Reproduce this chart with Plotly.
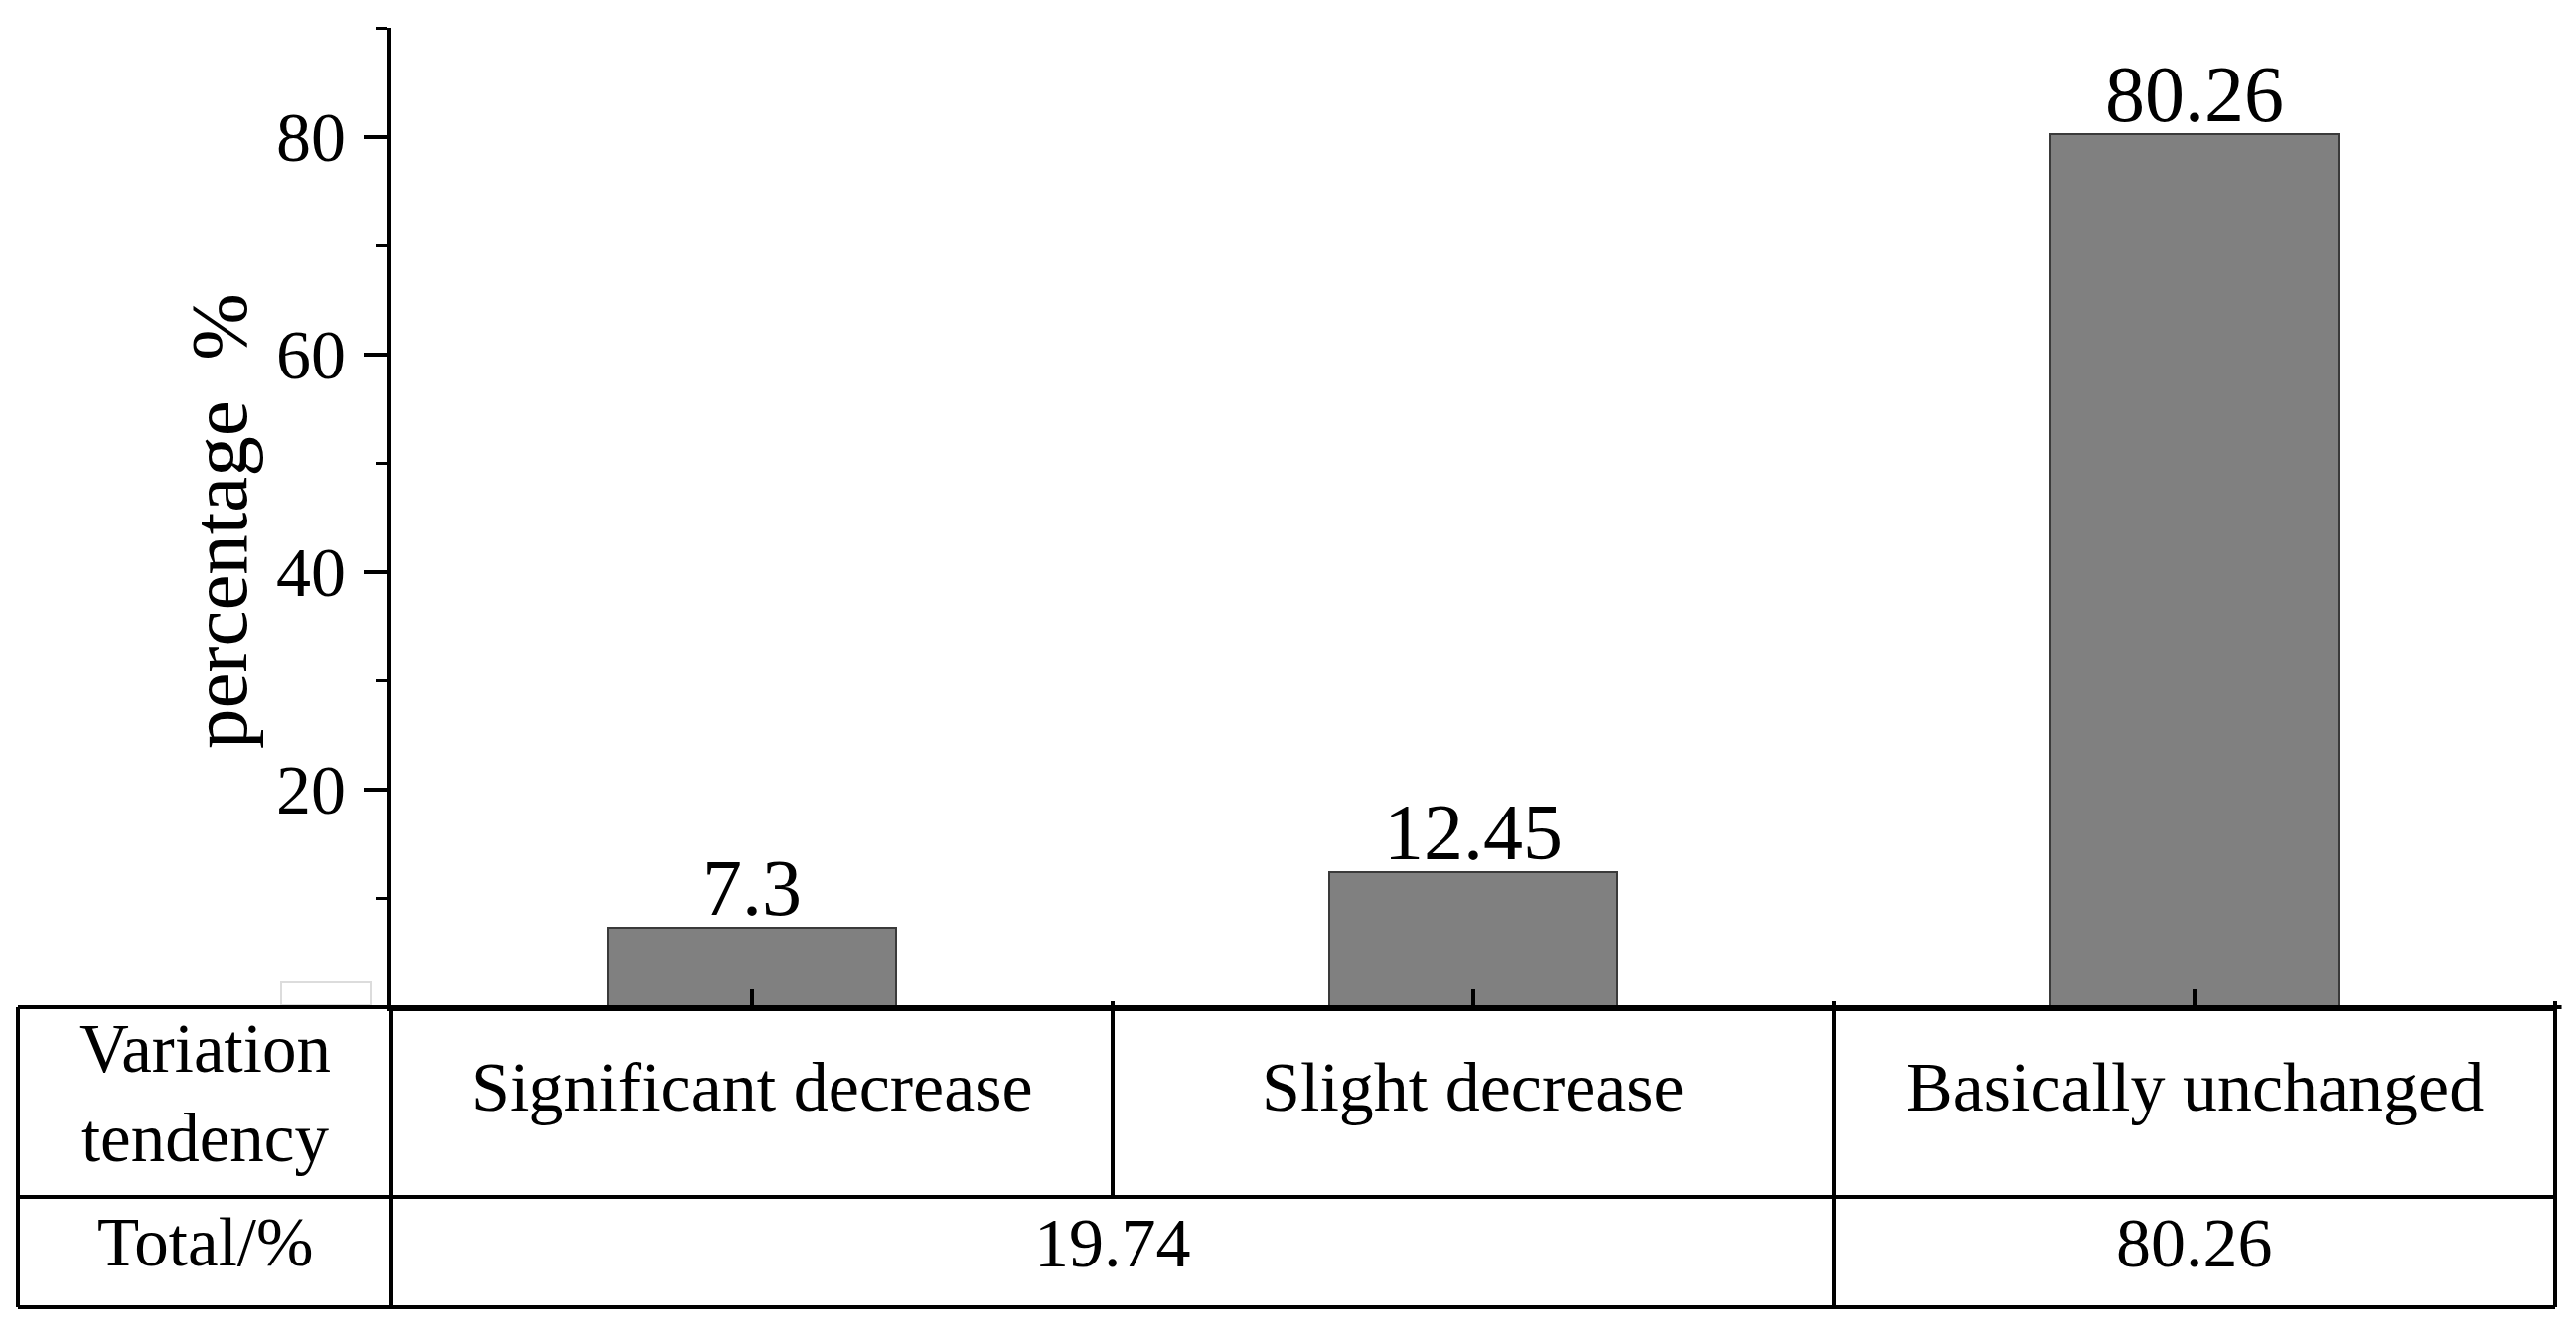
import plotly.graph_objects as go

# ---- data ----
categories = ["Significant decrease", "Slight decrease", "Basically unchanged"]
percentages = [7.3, 12.45, 80.26]
total_labels = ["19.74", "80.26"]
total_spans = [(0, 1), (2, 2)]          # category index ranges merged in the Total row
y_ticks = [20, 40, 60, 80]
header_labels = ["Variation<br>tendency", "Total/%"]
y_title = "percentage\u00a0\u00a0%"

# ---- geometry (page pixels; the page body has an 8px margin) ----
OFF = 8
W, H = 2593 - OFF, 1346 - OFF
AX_X, AX_RIGHT, AX_TOP, AX_BOT = 394, 2572, 28, 1014   # page px of plot area
L = AX_X - OFF
R = W - (AX_RIGHT - OFF)
T = AX_TOP - OFF
B = H - (AX_BOT - OFF)
plot_w = W - L - R
plot_h = H - T - B
x_lo, x_hi = -0.5, len(categories) - 0.5
y_lo, y_hi = 0, 90

FONT = "Liberation Serif, Times New Roman, serif"
LW = 4


def px_to_paper_x(px):
    return (px - AX_X) / plot_w


def px_to_paper_y(py):
    return (AX_BOT - py) / plot_h


def cat_to_paper(v):
    return (v - x_lo) / (x_hi - x_lo)


fig = go.Figure()
fig.add_trace(go.Bar(
    x=categories, y=percentages, width=0.4,
    marker=dict(color="#808080", line=dict(color="#3a3a3a", width=2)),
    showlegend=False,
))

# value labels above bars
for c, v in zip(categories, percentages):
    fig.add_annotation(x=c, y=v, xref="x", yref="y", text=f"{v:g}", showarrow=False,
                       xanchor="center", yanchor="bottom", yshift=-6,
                       font=dict(family=FONT, size=80, color="black"))

shapes = []
row1 = px_to_paper_y(1205)
row2 = px_to_paper_y(1316)
left = px_to_paper_x(18)
up = 6 / plot_h

def line(x0, y0, x1, y1, color="black", w=LW):
    shapes.append(dict(type="line", xref="paper", yref="paper", x0=x0, y0=y0, x1=x1, y1=y1,
                       line=dict(color=color, width=w), layer="above"))

# horizontal table lines
line(left, 0, 1.003, 0)
line(left, row1, 1, row1)
line(left, row2, 1, row2)
# verticals
line(left, 0, left, row2)
line(0, 0, 0, row2)
line(cat_to_paper(0.5), up, cat_to_paper(0.5), row1)
line(cat_to_paper(1.5), up, cat_to_paper(1.5), row2)
line(1, up, 1, row2)
# faint box near origin
shapes.append(dict(type="rect", xref="paper", yref="paper",
                   x0=px_to_paper_x(283), x1=px_to_paper_x(373), y0=0.002, y1=px_to_paper_y(989),
                   line=dict(color="#dcdcdc", width=2), fillcolor="rgba(0,0,0,0)", layer="below"))

# table text
r1c = px_to_paper_y(1094)
r2c = px_to_paper_y(1251)
for c in categories:
    fig.add_annotation(x=c, xref="x", y=r1c, yref="paper", text=c, showarrow=False,
                       xanchor="center", yanchor="middle", font=dict(family=FONT, size=70, color="black"))
for lab, (a, b) in zip(total_labels, total_spans):
    fig.add_annotation(x=cat_to_paper((a + b) / 2), xref="paper", y=r2c, yref="paper", text=lab,
                       showarrow=False, xanchor="center", yanchor="middle",
                       font=dict(family=FONT, size=70, color="black"))
fig.add_annotation(x=left / 2, xref="paper", y=px_to_paper_y(1101), yref="paper", text=header_labels[0],
                   showarrow=False, xanchor="center", yanchor="middle",
                   font=dict(family=FONT, size=69, color="black"))
fig.add_annotation(x=left / 2, xref="paper", y=r2c, yref="paper", text=header_labels[1],
                   showarrow=False, xanchor="center", yanchor="middle",
                   font=dict(family=FONT, size=69, color="black"))

# y axis title
fig.add_annotation(x=px_to_paper_x(221), xref="paper", y=px_to_paper_y(524), yref="paper",
                   text=y_title, textangle=-90, showarrow=False, xanchor="center", yanchor="middle",
                   font=dict(family=FONT, size=81, color="black"))

fig.update_layout(
    width=W, height=H,
    margin=dict(l=L, r=R, t=T, b=B, pad=0),
    paper_bgcolor="white", plot_bgcolor="white",
    shapes=shapes,
    bargap=0,
    font=dict(family=FONT, color="black"),
)
fig.update_xaxes(range=[x_lo, x_hi], showline=True, linecolor="black", linewidth=LW,
                 ticks="inside", ticklen=18, tickwidth=3.5, tickcolor="black",
                 showticklabels=False, showgrid=False, zeroline=False)
fig.update_yaxes(range=[y_lo, y_hi], tickvals=y_ticks, showline=True, linecolor="black", linewidth=LW,
                 ticks="outside", ticklen=24, tickwidth=3.5, tickcolor="black",
                 minor=dict(ticks="outside", ticklen=12, tickwidth=3, tickcolor="black",
                            tickvals=[10, 30, 50, 70, 90]),
                 tickfont=dict(family=FONT, size=70, color="black"), ticklabelstandoff=4,
                 showgrid=False, zeroline=False)

fig.write_html("out.html")
